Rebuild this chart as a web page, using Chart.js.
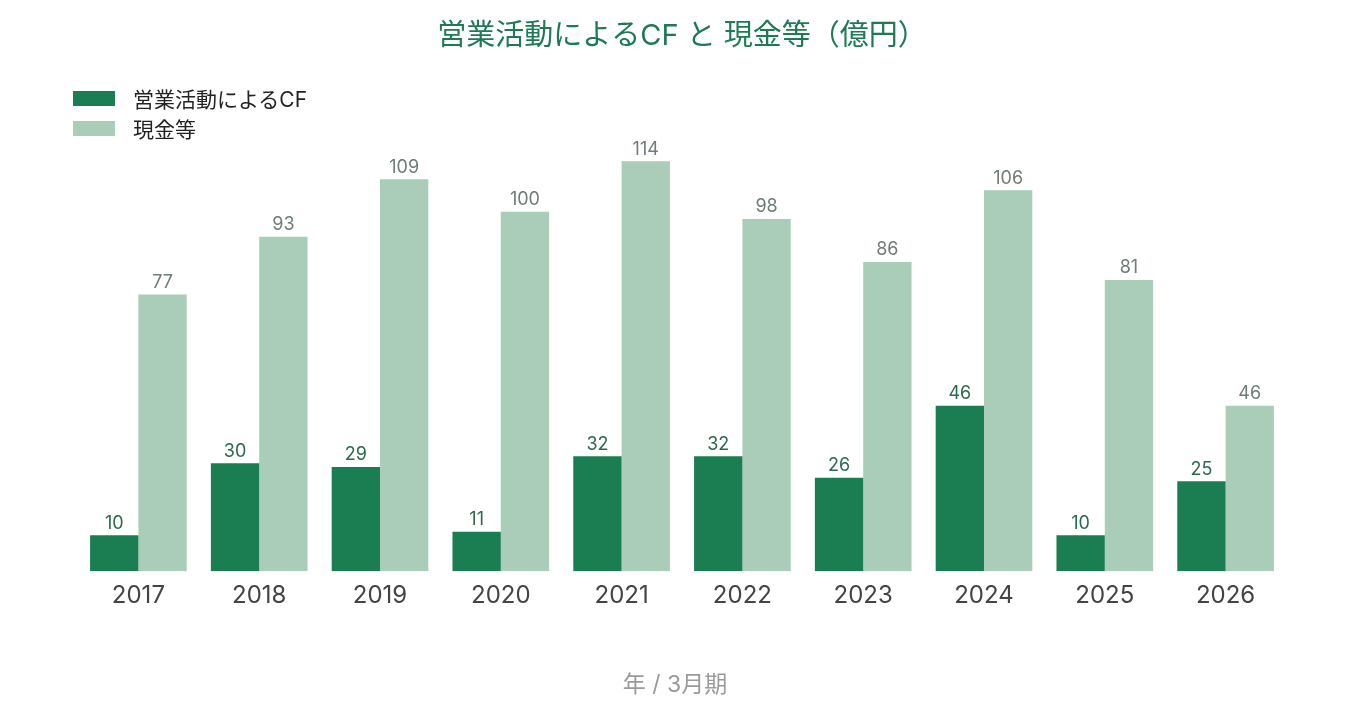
<!DOCTYPE html>
<html lang="ja">
<head>
<meta charset="UTF-8">
<script src="https://cdn.jsdelivr.net/npm/chart.js@4"></script>
<style>
  html, body { margin: 0; padding: 0; background: #fff; }
  #wrap { position: relative; width: 1350px; height: 705px; }
  #legend { position: absolute; left: 73px; top: 83px; font-family: "Inter", "Noto Sans CJK JP", sans-serif; font-size: 21px; color: #222; }
  #legend div { display: flex; align-items: center; height: 30px; }
  #legend span.box { display: inline-block; width: 42px; height: 15px; margin-right: 18px; }
</style>
</head>
<body>
<div id="wrap">
  <canvas id="cf-chart" width="1350" height="705"></canvas>
  <div id="legend"></div>
</div>
<script>
// データ
const years = ["2017", "2018", "2019", "2020", "2021", "2022", "2023", "2024", "2025", "2026"];
const operatingCF = [10, 30, 29, 11, 32, 32, 26, 46, 10, 25];
const cashEtc = [77, 93, 109, 100, 114, 98, 86, 106, 81, 46];
const seriesNames = ["営業活動によるCF", "現金等"];

const darkGreen = "#1b7d52";
const lightGreen = "#a9cdb8";
const fontFamily = "'Inter', 'Noto Sans CJK JP', sans-serif";

// 棒の上に値を描く
const valueLabels = {
    id: "valueLabels",
    afterDatasetsDraw(chart) {
        const ctx = chart.ctx;
        ctx.save();
        ctx.font = "18px " + fontFamily;
        ctx.textAlign = "center";
        ctx.textBaseline = "bottom";
        chart.data.datasets.forEach((ds, i) => {
            const meta = chart.getDatasetMeta(i);
            ctx.fillStyle = i === 0 ? "#2c6a4d" : "#6e7d76";
            meta.data.forEach((bar, j) => {
                ctx.fillText(ds.data[j], bar.x, bar.y - 3);
            });
        });
        ctx.restore();
    }
};

// x軸タイトル：キャンバス中央に描く
const axisTitle = {
    id: "axisTitle",
    afterDraw(chart) {
        const ctx = chart.ctx;
        ctx.save();
        ctx.font = "23px " + fontFamily;
        ctx.fillStyle = "#9a9a9a";
        ctx.textAlign = "center";
        ctx.textBaseline = "middle";
        ctx.fillText("年 / 3月期", chart.width / 2, chart.height - 20);
        ctx.restore();
    }
};

const chart = new Chart(document.getElementById("cf-chart").getContext("2d"), {
    type: "bar",
    data: {
        labels: years,
        datasets: [
            { label: seriesNames[0], data: operatingCF, backgroundColor: darkGreen },
            { label: seriesNames[1], data: cashEtc, backgroundColor: lightGreen }
        ]
    },
    options: {
        responsive: false,
        animation: false,
        layout: { padding: { left: 78, right: 64, bottom: 85 } },
        datasets: { bar: { categoryPercentage: 0.8, barPercentage: 1.0 } },
        plugins: {
            legend: { display: false },
            tooltip: { enabled: false },
            title: {
                display: true,
                text: "営業活動によるCF と 現金等（億円）",
                color: "#1e7a52",
                font: { family: fontFamily, size: 29, weight: "normal" },
                padding: { top: 19, bottom: 86 }
            }
        },
        scales: {
            x: {
                grid: { display: false, drawTicks: false },
                border: { display: false },
                ticks: { color: "#444", font: { family: fontFamily, size: 24 }, padding: 10 }
            },
            y: {
                display: false,
                min: 0,
                max: 120
            }
        }
    },
    plugins: [valueLabels, axisTitle]
});

// 凡例（HTML）
const legendEl = document.getElementById("legend");
chart.data.datasets.forEach(ds => {
    const row = document.createElement("div");
    const box = document.createElement("span");
    box.className = "box";
    box.style.background = ds.backgroundColor;
    row.appendChild(box);
    row.appendChild(document.createTextNode(ds.label));
    legendEl.appendChild(row);
});
</script>
</body>
</html>
